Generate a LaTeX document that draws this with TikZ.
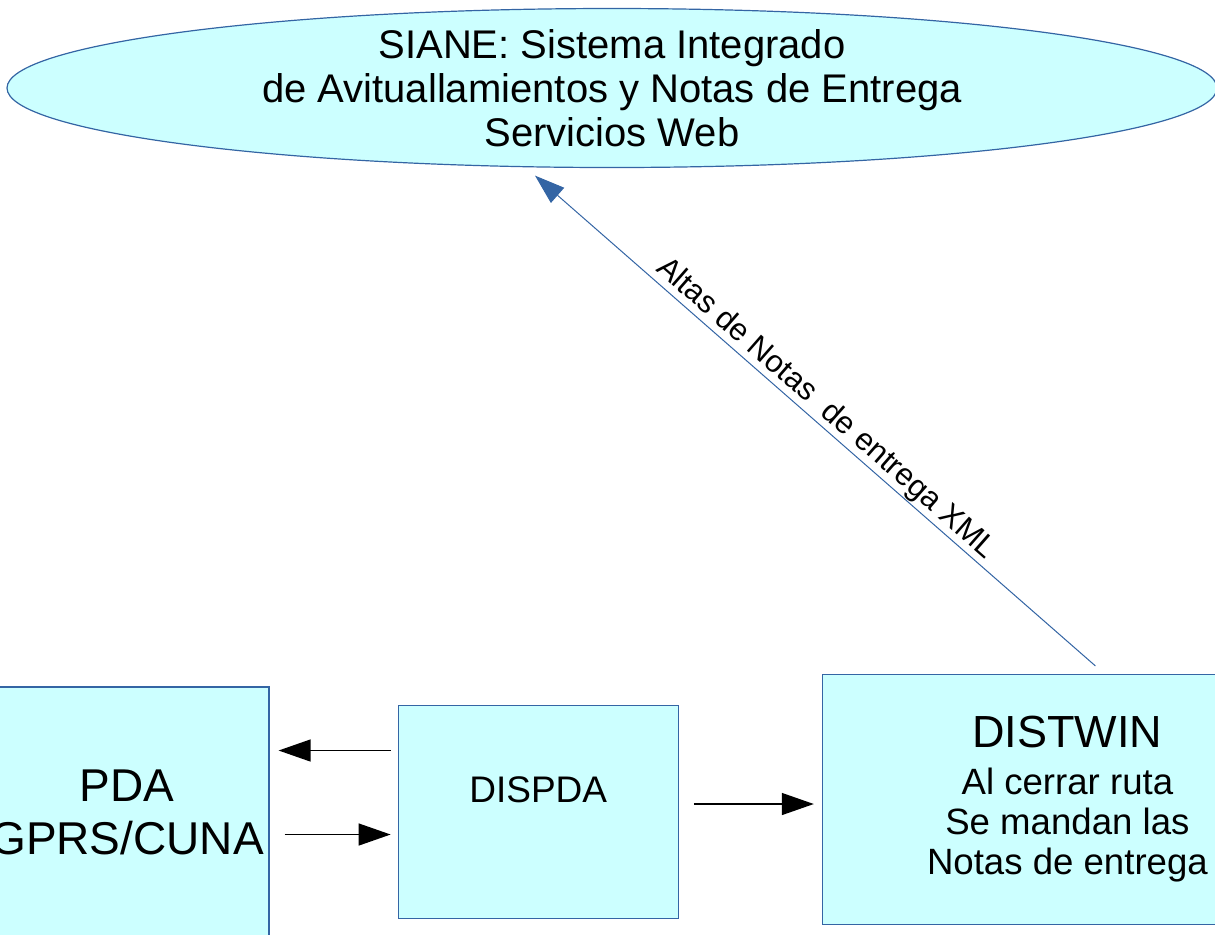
\documentclass[tikz,border=0pt]{standalone}
\usepackage{fontspec}
\setmainfont{Liberation Sans}
\usetikzlibrary{positioning, arrows.meta, shapes.geometric, calc}
\definecolor{boxfill}{HTML}{CCFFFF}
\definecolor{boxline}{HTML}{3465A4}
\tikzset{
    sys/.style={draw=boxline, fill=boxfill, line width=0.6pt, align=center, inner sep=1pt},
    ellip/.append style={ellipse, inner xsep=0pt, inner ysep=-6pt},
    msg/.style={-{Triangle[length=16pt, width=11pt]}, line width=0.7pt},
    feed/.style={-{Triangle[length=15pt, width=10pt]}, draw=boxline, line width=0.5pt},
}

\begin{document}
\begin{tikzpicture}
    \tikzset{
      x=0.5pt, y=-0.5pt,
      node distance=64pt
    }
    \useasboundingbox (0,0) rectangle (1215,934);

    \node[sys, ellip, minimum width=605pt, minimum height=79.5pt, font=\fontsize{20}{22}\selectfont] (siane) at (612,88)
      {SIANE: Sistema Integrado\\de Avituallamientos y Notas de Entrega\\Servicios Web};

    \node[sys, minimum width=142pt, minimum height=125pt, font=\fontsize{23}{26.5}\selectfont] (pda) at (127,812) {PDA\\GPRS/CUNA};
    \node[sys, minimum width=140pt, minimum height=106.5pt, right=of pda] (dispda) {};
    \node[font=\fontsize{18.5}{20}\selectfont, yshift=11.25pt] (dispdatxt) at (dispda) {DISPDA};
    \node[sys, minimum width=245pt, minimum height=125pt, right=71.5pt of dispda, yshift=6.25pt, font=\fontsize{18.3}{20}\selectfont] (distwin)
      {{\fontsize{22.5}{20}\selectfont DISTWIN}\\[3.5pt]Al cerrar ruta\\Se mandan las\\Notas de entrega};

    \coordinate (d1) at ([yshift=30.75pt]dispda.west);
    \coordinate (d2) at ([yshift=-11.25pt]dispda.west);
    \coordinate (d3) at ([yshift=4pt]dispda.east);

    \draw (d1) edge[msg, shorten <=3.5pt, shorten >=4.5pt] (d1 -| pda.east);
    \draw (pda.east |- d2) edge[msg, shorten <=7.5pt, shorten >=3.5pt] (d2);
    \draw (d3) edge[msg, shorten <=7.5pt, shorten >=4pt] (d3 -| distwin.west);

    \draw ([xshift=14pt, yshift=4pt]distwin.north) edge[feed]
      node[sloped, above, pos=0.5, inner sep=0.5pt, font=\fontsize{15.5}{17}\selectfont]{Altas de Notas \ de entrega XML}
      ([xshift=-38.5pt, yshift=-3.75pt]siane.south);
  \end{tikzpicture}
\end{document}
